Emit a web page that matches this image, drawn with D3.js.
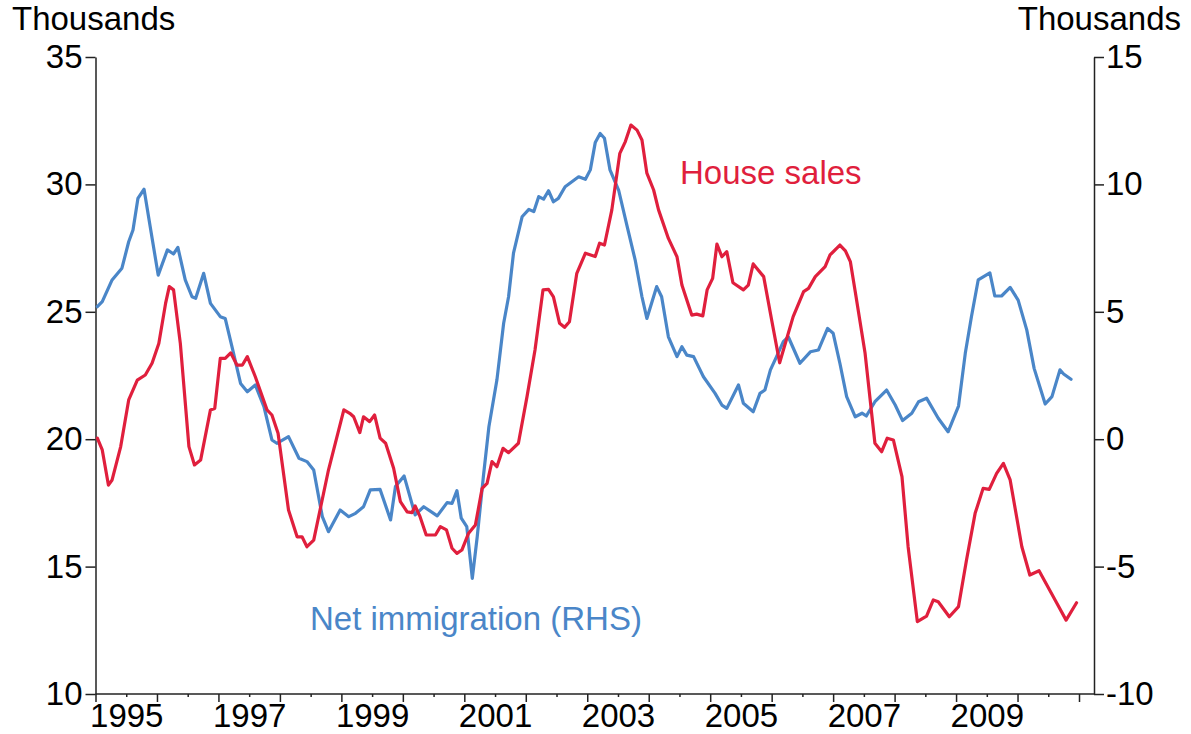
<!DOCTYPE html>
<html>
<head>
<meta charset="utf-8">
<script src="https://cdn.jsdelivr.net/npm/d3@7"></script>
<style>
  html, body { margin: 0; padding: 0; background: #fff; }
  svg { display: block; }
  text { font-family: "Liberation Sans", Arial, sans-serif; }
</style>
</head>
<body>
<svg id="chart" width="1191" height="734"></svg>
<script>
// ---- Data ----
const immigrationDates = [1995.03,1995.11,1995.27,1995.43,1995.54,1995.61,1995.69,1995.79,1995.89,1996.02,
1996.17,1996.27,1996.34,1996.46,1996.57,1996.63,1996.76,1996.87,1997.03,1997.11,
1997.22,1997.36,1997.47,1997.60,1997.74,1997.87,1997.95,1998.14,1998.31,1998.44,
1998.55,1998.69,1998.79,1998.98,1999.12,1999.23,1999.36,1999.47,1999.63,1999.80,
1999.88,2000.02,2000.20,2000.34,2000.56,2000.72,2000.80,2000.88,2000.95,2001.04,
2001.13,2001.21,2001.31,2001.40,2001.53,2001.64,2001.72,2001.80,2001.94,2002.05,
2002.13,2002.21,2002.29,2002.37,2002.45,2002.53,2002.64,2002.86,2002.97,2003.05,
2003.13,2003.21,2003.28,2003.37,2003.51,2003.65,2003.78,2003.89,2003.97,2004.13,
2004.21,2004.32,2004.46,2004.54,2004.62,2004.73,2004.89,2005.08,2005.19,2005.27,
2005.46,2005.54,2005.70,2005.81,2005.89,2005.98,2006.08,2006.19,2006.27,2006.46,
2006.63,2006.76,2006.91,2007.00,2007.11,2007.22,2007.36,2007.47,2007.54,2007.68,
2007.87,2008.01,2008.13,2008.28,2008.39,2008.52,2008.71,2008.87,2009.04,2009.15,
2009.25,2009.36,2009.55,2009.63,2009.74,2009.88,2010.01,2010.15,2010.27,2010.45,
2010.56,2010.69,2010.75,2010.87];
const immigrationValues = [5.20,5.40,6.25,6.71,7.75,8.21,9.45,9.81,8.34,6.44,
7.43,7.27,7.53,6.25,5.59,5.53,6.51,5.33,4.81,4.74,
3.63,2.19,1.86,2.13,1.28,-0.03,-0.16,0.10,-0.75,-0.88,
-1.21,-3.04,-3.63,-2.78,-3.04,-2.91,-2.65,-1.99,-1.97,-3.17,
-1.86,-1.44,-2.97,-2.65,-3.01,-2.49,-2.52,-2.02,-3.10,-3.43,
-5.46,-3.83,-1.47,0.49,2.32,4.55,5.59,7.30,8.73,9.02,
8.93,9.52,9.42,9.75,9.32,9.45,9.91,10.30,10.20,10.57,
11.64,12.00,11.81,10.57,9.78,8.34,7.03,5.59,4.74,5.99,
5.59,4.02,3.24,3.63,3.30,3.24,2.45,1.80,1.34,1.21,
2.13,1.41,1.08,1.80,1.93,2.72,3.24,3.83,4.02,2.98,
3.43,3.50,4.35,4.16,2.98,1.67,0.88,1.02,0.91,1.47,
1.93,1.34,0.73,1.02,1.47,1.61,0.82,0.29,1.30,3.37,
4.81,6.25,6.53,5.62,5.62,5.96,5.46,4.29,2.78,1.38,
1.67,2.72,2.56,2.35];

const salesDates = [1995.03,1995.11,1995.21,1995.27,1995.41,1995.54,1995.68,1995.81,1995.92,1996.03,
1996.14,1996.20,1996.27,1996.38,1996.52,1996.61,1996.71,1996.87,1996.94,1997.03,
1997.11,1997.20,1997.30,1997.39,1997.47,1997.60,1997.79,1997.87,1997.97,1998.14,
1998.28,1998.36,1998.44,1998.55,1998.79,1999.04,1999.15,1999.20,1999.30,1999.36,
1999.46,1999.54,1999.63,1999.72,1999.85,1999.96,2000.07,2000.15,2000.20,2000.28,
2000.38,2000.53,2000.61,2000.71,2000.80,2000.88,2000.96,2001.07,2001.18,2001.29,
2001.37,2001.45,2001.53,2001.63,2001.72,2001.88,2002.02,2002.15,2002.28,2002.37,
2002.45,2002.55,2002.63,2002.71,2002.83,2002.97,2003.13,2003.20,2003.28,2003.40,
2003.53,2003.62,2003.71,2003.81,2003.89,2003.97,2004.08,2004.16,2004.32,2004.46,
2004.54,2004.70,2004.78,2004.88,2004.95,2005.04,2005.11,2005.19,2005.27,2005.37,
2005.54,2005.62,2005.70,2005.87,2006.00,2006.13,2006.35,2006.52,2006.60,2006.71,
2006.87,2006.95,2007.11,2007.20,2007.28,2007.36,2007.52,2007.68,2007.79,2007.88,
2007.98,2008.12,2008.22,2008.37,2008.52,2008.63,2008.71,2008.89,2009.04,2009.17,
2009.31,2009.44,2009.54,2009.66,2009.77,2009.88,2010.07,2010.20,2010.35,2010.64,
2010.79,2010.96];
const salesValues = [20.04,19.58,18.20,18.40,19.71,21.54,22.32,22.52,22.98,23.76,
25.33,25.99,25.86,23.76,19.71,18.99,19.18,21.15,21.21,23.17,
23.17,23.39,22.91,22.91,23.24,22.45,21.15,20.95,20.23,17.22,
16.17,16.17,15.78,16.04,18.79,21.15,20.99,20.88,20.26,20.88,
20.69,20.95,20.04,19.84,18.86,17.55,17.15,17.12,17.38,16.96,
16.24,16.24,16.57,16.44,15.72,15.52,15.65,16.31,16.63,18.07,
18.27,19.12,18.92,19.64,19.47,19.84,21.67,23.50,25.86,25.88,
25.59,24.55,24.39,24.61,26.51,27.30,27.17,27.69,27.62,29.00,
31.22,31.68,32.33,32.13,31.74,30.44,29.78,29.00,27.88,27.16,
26.05,24.87,24.91,24.84,25.86,26.31,27.66,27.16,27.36,26.14,
25.86,26.05,26.88,26.38,24.68,23.00,24.81,25.79,25.92,26.38,
26.77,27.23,27.62,27.39,26.97,25.79,23.37,19.84,19.51,20.04,
19.97,18.53,15.78,12.84,13.06,13.69,13.62,13.03,13.43,15.26,
17.09,18.07,18.03,18.66,19.05,18.40,15.78,14.67,14.84,13.56,
12.90,13.58];

const leftTicks = [10, 15, 20, 25, 30, 35];
const rightTicks = [-10, -5, 0, 5, 10, 15];
const yearTicks = [1995,1996,1997,1998,1999,2000,2001,2002,2003,2004,2005,2006,2007,2008,2009,2010,2011];
const yearLabels = ["1995","1997","1999","2001","2003","2005","2007","2009"];
const leftTitle = "Thousands";
const rightTitle = "Thousands";
const salesLabel = "House sales";
const immigrationLabel = "Net immigration (RHS)";

// ---- Layout ----
const svg = d3.select("#chart");
const plot = { left: 95.5, right: 1094, top: 57, bottom: 694 };
const fontSize = 33;
const axisColor = "#222";
const blue = "#4a86c8";
const red = "#e01f3d";

const x = d3.scaleLinear().domain([1995, 2011.244]).range([plot.left, plot.right]);
const yL = d3.scaleLinear().domain([10, 35]).range([plot.bottom, plot.top]);
const yR = d3.scaleLinear().domain([-10, 15]).range([plot.bottom, plot.top]);

function styleAxis(g) {
  g.selectAll("path.domain").attr("stroke", axisColor).attr("stroke-width", 1.5);
  g.selectAll(".tick line").attr("stroke", axisColor).attr("stroke-width", 1.5);
  g.selectAll("text").attr("font-size", fontSize).attr("fill", "#000")
    .attr("font-family", "'Liberation Sans', Arial, sans-serif");
}

// Left axis
const gL = svg.append("g").attr("transform", `translate(${plot.left},0)`)
  .call(d3.axisLeft(yL).tickValues(leftTicks).tickSize(10).tickSizeOuter(0).tickPadding(3).tickFormat(d3.format("d")));
styleAxis(gL);

// Right axis
const gR = svg.append("g").attr("transform", `translate(${plot.right},0)`)
  .call(d3.axisRight(yR).tickValues(rightTicks).tickSize(10).tickSizeOuter(0).tickPadding(2).tickFormat(d => d < 0 ? "-" + Math.abs(d) : String(d)));
styleAxis(gR);

// Bottom axis: major year ticks
const gB = svg.append("g").attr("transform", `translate(0,${plot.bottom})`)
  .call(d3.axisBottom(x).tickValues(yearTicks).tickSize(8).tickSizeOuter(0).tickFormat(""));
styleAxis(gB);
gB.select("path.domain").attr("d", `M${plot.left},0H${plot.right}`);

// Bottom axis: mid-year minor ticks
const midYears = yearTicks.slice(0, -1).map(d => d + 0.5);
const gM = svg.append("g").attr("transform", `translate(0,${plot.bottom})`)
  .call(d3.axisBottom(x).tickValues(midYears).tickSize(3).tickSizeOuter(0).tickFormat(""));
styleAxis(gM);
gM.select("path.domain").remove();

// Bottom axis: year labels centred in the year
const gY = svg.append("g").attr("transform", `translate(0,${plot.bottom})`)
  .call(d3.axisBottom(x).tickValues(yearLabels.map(s => +s + 0.5)).tickSize(0).tickPadding(10)
    .tickFormat(d => String(Math.floor(d))));
styleAxis(gY);
gY.select("path.domain").remove();

// Axis titles
svg.append("text").attr("x", 12).attr("y", 30).attr("font-size", fontSize).text(leftTitle);
svg.append("text").attr("x", 1181).attr("y", 30).attr("text-anchor", "end").attr("font-size", fontSize).text(rightTitle);

// Lines
const immigration = immigrationDates.map((d, i) => ({ t: d, v: immigrationValues[i] }));
const sales = salesDates.map((d, i) => ({ t: d, v: salesValues[i] }));

svg.append("path").datum(immigration)
  .attr("fill", "none").attr("stroke", blue).attr("stroke-width", 3.2)
  .attr("stroke-linejoin", "round").attr("stroke-linecap", "round")
  .attr("d", d3.line().x(d => x(d.t)).y(d => yR(d.v)));

svg.append("path").datum(sales)
  .attr("fill", "none").attr("stroke", red).attr("stroke-width", 3.2)
  .attr("stroke-linejoin", "round").attr("stroke-linecap", "round")
  .attr("d", d3.line().x(d => x(d.t)).y(d => yL(d.v)));

// Series labels
svg.append("text").attr("x", 680).attr("y", 184).attr("font-size", fontSize).attr("fill", red).text(salesLabel);
svg.append("text").attr("x", 310).attr("y", 630).attr("font-size", fontSize).attr("fill", blue).text(immigrationLabel);
</script>
</body>
</html>
